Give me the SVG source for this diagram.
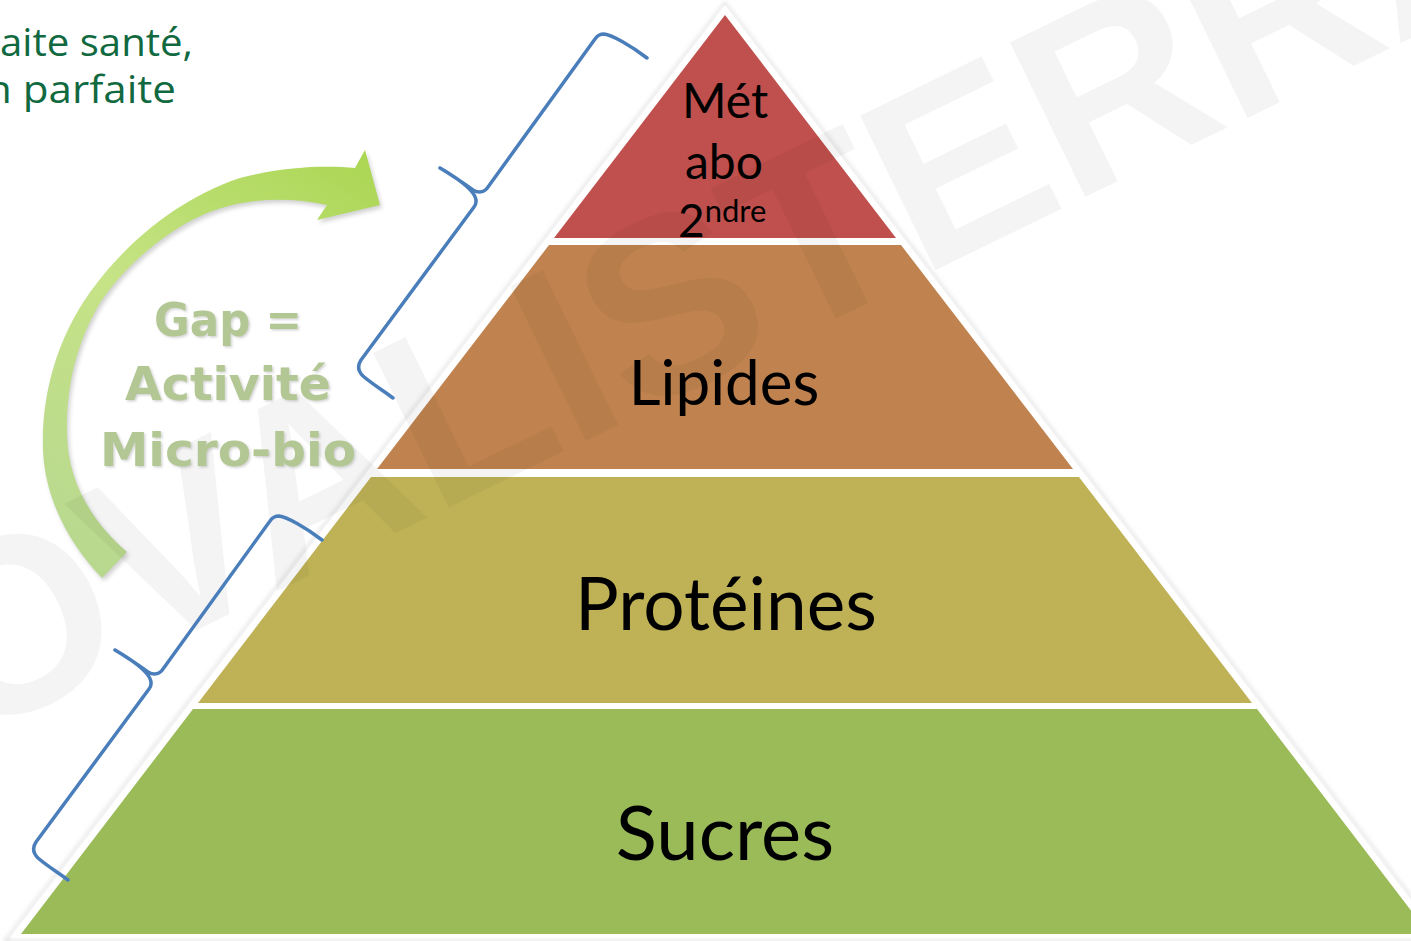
<svg xmlns="http://www.w3.org/2000/svg" width="1411" height="941" viewBox="0 0 1411 941">
  <defs>
    <style>
      .lbl { font-family: Lato, "Liberation Sans", sans-serif; fill: #000; text-anchor: middle; }
      .gap { font-family: "DejaVu Sans", sans-serif; font-weight: bold; fill: #B3C795; text-anchor: middle; }
      .intro { font-family: "Open Sans", "Liberation Sans", sans-serif; fill: #11693F; font-size: 39px; }
      .brace { fill: none; stroke: #4A7EBB; stroke-width: 3.5; stroke-linecap: round; stroke-linejoin: round; }
      .wm { font-family: "Liberation Sans", sans-serif; font-weight: bold; font-size: 250px; fill: #000; fill-opacity: 0.045; }
    </style>
    <linearGradient id="arrowGrad" x1="100" y1="578" x2="380" y2="150" gradientUnits="userSpaceOnUse">
      <stop offset="0" stop-color="#B8D88F"/>
      <stop offset="0.5" stop-color="#C6E386"/>
      <stop offset="1" stop-color="#AAD651"/>
    </linearGradient>
    <filter id="soft" x="-10%" y="-10%" width="120%" height="120%">
      <feGaussianBlur stdDeviation="2"/>
    </filter>
    <filter id="txtShadow" x="-10%" y="-10%" width="120%" height="130%">
      <feDropShadow dx="1.5" dy="1.5" stdDeviation="1" flood-color="#808080" flood-opacity="0.35"/>
    </filter>
    <path id="arrowPath" d="M 102 578 C 70 545, 45 500, 43 450 C 41 390, 60 330, 97 283 C 130 240, 180 198, 240 178 C 290 165, 330 166, 355 168 L 365 150 L 380 205 L 317 220 L 327 205 C 290 197, 250 198, 215 210 C 170 226, 125 265, 100 303 C 75 345, 66 390, 67 435 C 68 480, 90 520, 127 552 Z"/>
    <path id="bracePath" d="M 647 58 C 630 45, 612 35, 604 34 C 600 34, 597 36, 595 39 L 488 187 C 484 193, 478 193, 473 190 C 462 182, 450 174, 440 168 M 440 168 C 452 175, 465 183, 472 192 C 477 198, 477 203, 474 207 L 361 360 C 357 366, 358 371, 363 376 C 372 384, 384 391, 393 398"/>
  </defs>

  <rect x="0" y="0" width="1411" height="941" fill="#FFFFFF"/>

  <!-- intro text (cropped) -->
  <g id="intro">
    <text class="intro" x="0" y="56" textLength="193" lengthAdjust="spacingAndGlyphs">aite santé,</text>
    <text class="intro" x="-14" y="103" textLength="190" lengthAdjust="spacingAndGlyphs">n parfaite</text>
  </g>

  <!-- pyramid outline / shadow -->
  <g id="pyramid-frame">
    <polygon points="725,3 1445,941 5,941" fill="none" stroke="#D8D8D8" stroke-width="2" filter="url(#soft)"/>
    <polygon points="725,5 1440,938 10,938" fill="#FFFFFF"/>
  </g>

  <g id="node-metabo">
    <polygon points="725,15 896,238 554,238" fill="#C0504D"/>
  </g>
  <g id="node-lipides">
    <polygon points="549,245 901,245 1073,469 377,469" fill="#C0834F"/>
  </g>
  <g id="node-proteines">
    <polygon points="371,477 1079,477 1252,703 198,703" fill="#BFB256"/>
  </g>
  <g id="node-sucres">
    <polygon points="193,709 1257,709 1429,934 21,934" fill="#9BBB59"/>
  </g>

  <!-- green curved arrow -->
  <g id="node-arrow">
    <use href="#arrowPath" fill="#9A9A9A" opacity="0.45" transform="translate(2,3)" filter="url(#soft)"/>
    <use href="#arrowPath" fill="url(#arrowGrad)"/>
  </g>

  <!-- watermark -->
  <g id="watermark" transform="translate(952,262) rotate(-26)">
    <text class="wm" x="-1100" y="0">OVALISTERRA</text>
  </g>

  <!-- labels -->
  <g id="labels">
    <text class="lbl" x="725" y="118" font-size="48">Mét</text>
    <text class="lbl" x="724" y="179" font-size="48">abo</text>
    <text class="lbl" x="678" y="237" font-size="46" style="text-anchor:start">2<tspan font-size="31" dy="-15">ndre</tspan></text>
    <text class="lbl" x="724" y="405" font-size="62">Lipides</text>
    <text class="lbl" x="726" y="630" font-size="73">Protéines</text>
    <text class="lbl" x="725" y="860" font-size="76">Sucres</text>
  </g>

  <g id="node-gap" filter="url(#txtShadow)">
    <text class="gap" x="228" y="336" font-size="46" textLength="148" lengthAdjust="spacingAndGlyphs">Gap =</text>
    <text class="gap" x="228" y="400" font-size="46" textLength="206" lengthAdjust="spacingAndGlyphs">Activité</text>
    <text class="gap" x="228" y="466" font-size="46" textLength="256" lengthAdjust="spacingAndGlyphs">Micro-bio</text>
  </g>

  <!-- brackets (connectors) -->
  <g id="connectors">
    <use href="#bracePath" class="brace"/>
    <use href="#bracePath" class="brace" transform="translate(-325,482)"/>
  </g>
</svg>
